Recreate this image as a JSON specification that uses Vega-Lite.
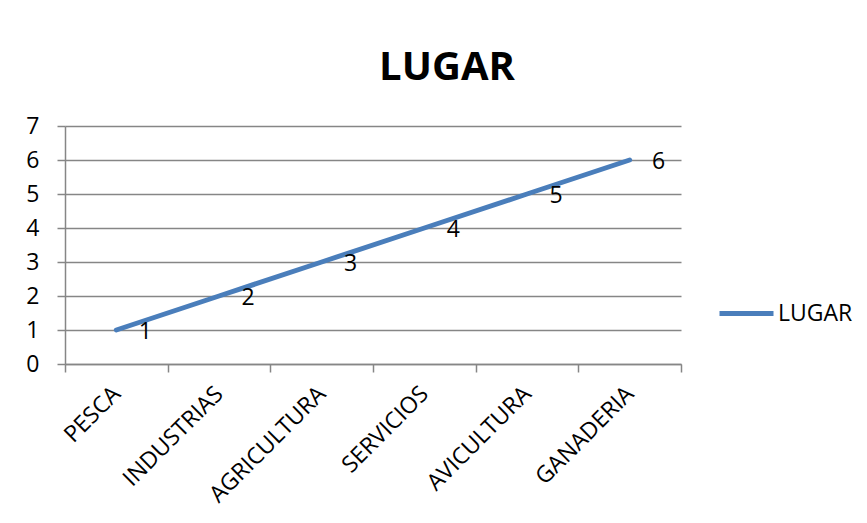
{
  "$schema": "https://vega.github.io/schema/vega-lite/v6.json",
  "autosize": "none",
  "width": 616,
  "height": 238,
  "padding": {"left": 65, "top": 126, "right": 186, "bottom": 159},
  "background": "white",
  "title": {
    "text": "LUGAR",
    "font": "Open Sans",
    "fontSize": 40,
    "fontWeight": "bold",
    "color": "black",
    "anchor": "middle",
    "frame": "group",
    "dx": 74,
    "baseline": "alphabetic",
    "offset": -5
  },
  "data": {
    "values": [
      {"sector": "PESCA", "valor": 1, "serie": "LUGAR"},
      {"sector": "INDUSTRIAS", "valor": 2, "serie": "LUGAR"},
      {"sector": "AGRICULTURA", "valor": 3, "serie": "LUGAR"},
      {"sector": "SERVICIOS", "valor": 4, "serie": "LUGAR"},
      {"sector": "AVICULTURA", "valor": 5, "serie": "LUGAR"},
      {"sector": "GANADERIA", "valor": 6, "serie": "LUGAR"}
    ]
  },
  "encoding": {
    "x": {
      "field": "sector",
      "type": "nominal",
      "sort": null,
      "bandPosition": 0.5,
      "scale": {"type": "band", "paddingInner": 0, "paddingOuter": 0},
      "axis": {
        "title": null,
        "labelAngle": -45,
        "labelAlign": "right",
        "labelBaseline": "middle",
        "labelPadding": 18,
        "labelFont": "Open Sans",
        "labelFontSize": 23,
        "labelColor": "black",
        "tickBand": "extent",
        "tickSize": 8,
        "tickColor": "#868686",
        "domainColor": "#868686",
        "tickWidth": 1.5,
        "domainWidth": 1.5,
        "grid": false
      }
    },
    "y": {
      "field": "valor",
      "type": "quantitative",
      "scale": {"domain": [0, 7], "nice": false},
      "axis": {
        "title": null,
        "values": [0, 1, 2, 3, 4, 5, 6, 7],
        "labelFont": "Open Sans",
        "labelFontSize": 23,
        "labelColor": "black",
        "labelPadding": 18,
        "tickSize": 8,
        "tickColor": "#868686",
        "domainColor": "#868686",
        "tickWidth": 1.5,
        "domainWidth": 1.5,
        "grid": true,
        "gridColor": "#868686",
        "gridWidth": 1.5
      }
    }
  },
  "layer": [
    {
      "mark": {"type": "line", "strokeWidth": 5, "strokeCap": "round"},
      "encoding": {
        "color": {
          "field": "serie",
          "type": "nominal",
          "scale": {"range": ["#4a7ebb"]},
          "legend": {
            "title": null,
            "orient": "none",
            "legendX": 652,
            "legendY": 158,
            "symbolType": "stroke",
            "symbolSize": 2916,
            "symbolStrokeWidth": 5,
            "labelFont": "Open Sans",
            "labelFontSize": 23,
            "labelColor": "black",
            "labelOffset": 2
          }
        }
      }
    },
    {
      "mark": {
        "type": "text",
        "font": "Open Sans",
        "fontSize": 23,
        "color": "black",
        "dx": 29,
        "dy": 2,
        "align": "center",
        "baseline": "middle"
      },
      "encoding": {"text": {"field": "valor", "type": "quantitative"}}
    }
  ],
  "config": {"view": {"stroke": null}}
}
